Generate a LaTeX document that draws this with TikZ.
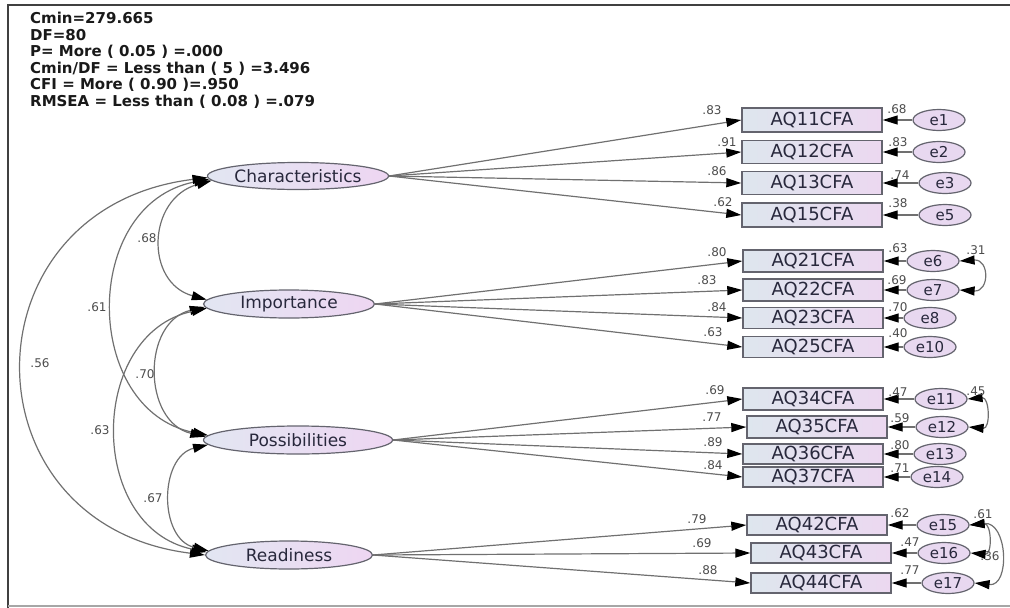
\documentclass[tikz,border=0pt]{standalone}
\usepackage{fontspec}
\setmainfont{DejaVu Sans}
\usetikzlibrary{arrows.meta,shapes.geometric}
\definecolor{latL}{RGB}{226,230,242}
\definecolor{latR}{RGB}{238,214,242}
\definecolor{boxL}{RGB}{222,230,238}
\definecolor{boxR}{RGB}{236,216,240}
\definecolor{errC}{RGB}{232,216,240}
\definecolor{lineC}{RGB}{112,112,112}
\definecolor{edgeC}{RGB}{100,100,110}
\definecolor{txtC}{RGB}{40,40,60}
\tikzset{
	latent/.style={ellipse,draw=edgeC,line width=1.2pt,left color=latL,right color=latR,inner sep=0pt,text=txtC,font=\fontsize{17}{17}\selectfont},
	obs/.style={rectangle,draw=edgeC,line width=1.4pt,left color=boxL,right color=boxR,minimum width=140pt,inner sep=0pt,text=txtC,font=\fontsize{18}{18}\selectfont},
	err/.style={ellipse,draw=edgeC,line width=1.2pt,fill=errC,minimum width=52pt,minimum height=21pt,inner sep=0pt,text=txtC,font=\fontsize{15}{15}\selectfont},
	load/.style={draw=lineC,line width=1.2pt,->},
	cov/.style={draw=lineC,line width=1.2pt,<->},
	lbl/.style={inner sep=0pt,text=black!70,font=\fontsize{12}{12}\selectfont},
	stats/.style={inner sep=0pt,align=left,text=black!90,font=\fontsize{15}{16.6}\selectfont\bfseries}
}
\begin{document}
\begin{tikzpicture}[x=1pt,y=-1pt,>={Triangle[length=15pt,width=9pt,color=black]}]
\useasboundingbox (0,0) rectangle (1010,608);
% frame
\draw[line width=2.5pt,black!75] (8,608) -- (8,5) -- (1010,5);
\draw[line width=2pt,black!35] (8,606) -- (1010,606);

% fit indices
\node[stats,anchor=north west] (fit) at (30,12) {Cmin=279.665\\DF=80\\P= More ( 0.05 ) =.000\\Cmin/DF = Less than ( 5 ) =3.496\\CFI = More ( 0.90 )=.950\\RMSEA = Less than ( 0.08 ) =.079};

% latent factors
\node[latent,minimum width=181pt,minimum height=27pt] (char) at (298,176) {Characteristics};
\node[latent,minimum width=171pt,minimum height=28pt] (imp) at (289,304) {Importance};
\node[latent,minimum width=189pt,minimum height=28pt] (poss) at (298,440) {Possibilities};
\node[latent,minimum width=167pt,minimum height=28pt] (read) at (289,555) {Readiness};

% items
\foreach \b/\t/\x/\y/\h in {b11/AQ11CFA/812/120/24, b12/AQ12CFA/812/152/23, b13/AQ13CFA/812/183/23, b15/AQ15CFA/812/215/24,
	b21/AQ21CFA/813/261/22, b22/AQ22CFA/813/290/22, b23/AQ23CFA/813/318/21, b25/AQ25CFA/813/347/21,
	b34/AQ34CFA/813/399/22, b35/AQ35CFA/817/427/22, b36/AQ36CFA/813/454/20, b37/AQ37CFA/813/477/20,
	b42/AQ42CFA/817/525/20, b43/AQ43CFA/821/553/20, b44/AQ44CFA/821/583/20} {
	\node[obs,minimum height=\h pt] (\b) at (\x,\y) {\t};
};

% errors
\foreach \e/\x/\y in {e1/939/120, e2/939/152, e3/945/183, e5/945/215,
	e6/933/261, e7/933/290, e8/930/318, e10/930/347,
	e11/941/399, e12/942/427, e13/940/454, e14/937/477,
	e15/943/525, e16/944/553, e17/948/583} {
	\node[err] (\e) at (\x,\y) {\e};
};

% loadings
\foreach \l/\b/\v/\lx/\ly in {char/b11/.83/712/110, char/b12/.91/727/142, char/b13/.86/717/171, char/b15/.62/723/202,
	imp/b21/.80/717/252, imp/b22/.83/707/280, imp/b23/.84/717/307, imp/b25/.63/713/332,
	poss/b34/.69/715/390, poss/b35/.77/712/417, poss/b36/.89/713/442, poss/b37/.84/713/465,
	read/b42/.79/697/519, read/b43/.69/702/543, read/b44/.88/708/570} {
	\draw[load] (\l.east) -- (\b.west);
	\node[lbl] (w\b) at (\lx,\ly) {\v};
};

% error paths
\foreach \e/\b/\v/\lx/\ly in {e1/b11/.68/897/109, e2/b12/.83/898/142, e3/b13/.74/900/175, e5/b15/.38/898/203,
	e6/b21/.63/898/248, e7/b22/.69/897/280, e8/b23/.70/898/307, e10/b25/.40/898/333,
	e11/b34/.47/898/392, e12/b35/.59/900/418, e13/b36/.80/900/445, e14/b37/.71/900/468,
	e15/b42/.62/900/513, e16/b43/.47/910/542, e17/b44/.77/910/570} {
	\draw[load] (\e.west) -- (\b.east);
	\node[lbl] (v\e) at (\lx,\ly) {\v};
};

% factor covariances
\draw[cov] (char.183) .. controls +(-65,18) and +(-62,-17) .. (imp.177);
\draw[cov] (char.182) .. controls +(-129,25) and +(-126,-25) .. (poss.177);
\draw[cov] (char.181) .. controls +(-245,30) and +(-243,-30) .. (read.180);
\draw[cov] (imp.182) .. controls +(-63,15) and +(-63,-15) .. (poss.178);
\draw[cov] (imp.183) .. controls +(-119,25) and +(-120,-25) .. (read.178);
\draw[cov] (poss.183) .. controls +(-49,12) and +(-50,-12) .. (read.177);
\node[lbl] (c1) at (147,238) {.68};
\node[lbl] (c2) at (97,307) {.61};
\node[lbl] (c3) at (40,363) {.56};
\node[lbl] (c4) at (145,374) {.70};
\node[lbl] (c5) at (100,430) {.63};
\node[lbl] (c6) at (153,498) {.67};

% error covariances
\draw[cov] (e6.east) .. controls +(30,-2) and +(30,2) .. (e7.east);
\draw[cov] (e11.east) .. controls +(22,-2) and +(22,2) .. (e12.east);
\draw[cov] (e15.east) .. controls +(22,-2) and +(22,2) .. (e16.east);
\draw[cov] (e15.east) .. controls +(38,-4) and +(36,4) .. (e17.east);
\node[lbl] (r1) at (976,250) {.31};
\node[lbl] (r2) at (976,391) {.45};
\node[lbl] (r3) at (983,514) {.61};
\node[lbl] (r4) at (990,556) {.36};

\end{tikzpicture}
\end{document}
